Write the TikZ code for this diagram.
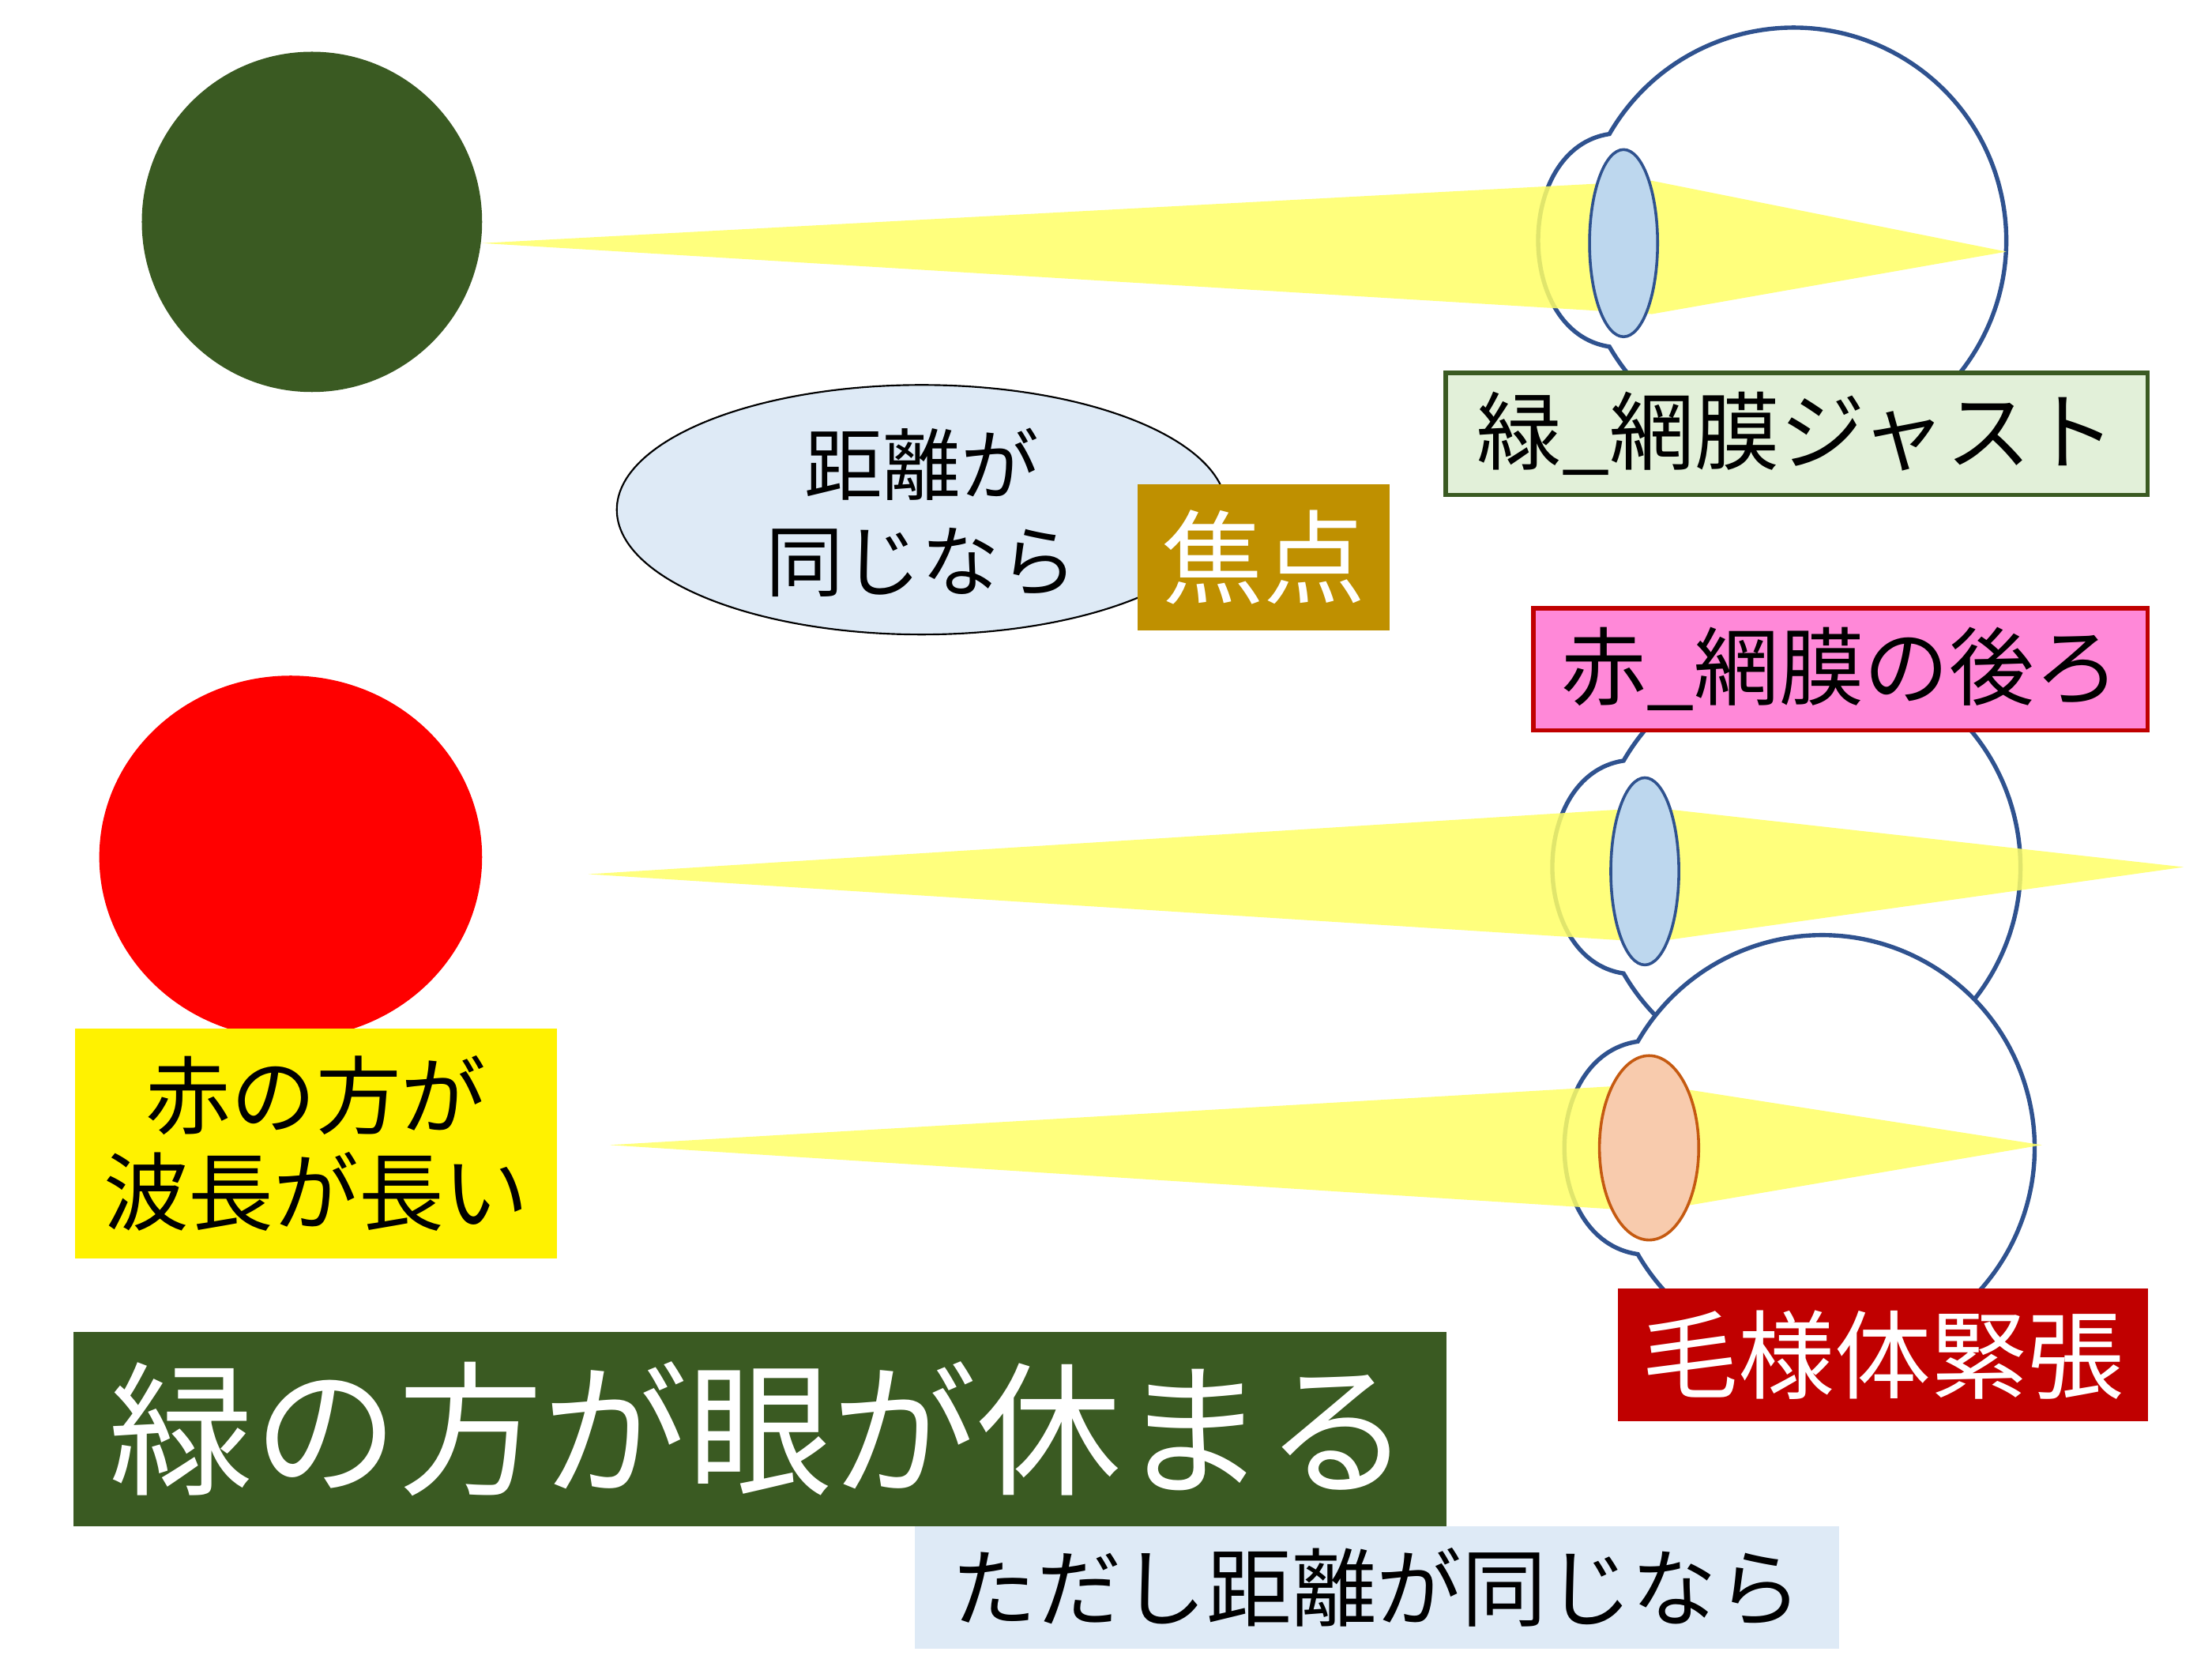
\documentclass[tikz,border=0pt]{standalone}
\usepackage{fontspec}
\usetikzlibrary{shapes.geometric}
\newfontfamily\cjk{Noto Sans CJK JP}
\definecolor{dgreen}{HTML}{3A5A22}
\definecolor{eyeblue}{HTML}{2F528F}
\definecolor{lensblue}{HTML}{BDD7EE}
\definecolor{lensor}{HTML}{F8CBAD}
\definecolor{lensorb}{HTML}{C55A11}
\definecolor{beam}{HTML}{FFFF66}
\definecolor{paleblue}{HTML}{DEEAF6}
\definecolor{gold}{HTML}{BF9000}
\definecolor{palegreen}{HTML}{E2F0D9}
\definecolor{pinkbox}{HTML}{FF88D8}
\definecolor{dred}{HTML}{C00000}
\tikzset{
  eyeline/.style={draw=eyeblue,line width=3pt,fill=white},
  beamfill/.style={fill=beam,fill opacity=0.85,draw=none},
  lbl/.style={font=\cjk,inner sep=0pt,align=center},
}
\begin{document}
\begin{tikzpicture}[x=1pt,y=1pt]
\useasboundingbox (0,0) rectangle (1560,1169.5);
% circles
\fill[dgreen] (220,1013) circle (120);
\fill[red] (205,565) ellipse (135 and 128);
% eye 1
\draw[eyeline] (1135,1075) arc[start angle=150,end angle=-150,radius=150]
  .. controls (1068,935) and (1068,1065) .. cycle;
\path[beamfill] (340,998) -- (1165,1042) -- (1415,992) -- (1165,948) -- cycle;
\draw[draw=eyeblue,line width=2pt,fill=lensblue] (1145,998) ellipse (24 and 66);
% eye 2
\draw[eyeline] (1145,633) arc[start angle=150,end angle=-150,radius=150]
  .. controls (1078,493) and (1078,623) .. cycle;
\path[beamfill] (415,553) -- (1165,600) -- (1540,558) -- (1165,505) -- cycle;
\draw[draw=eyeblue,line width=2pt,fill=lensblue] (1160,555) ellipse (24 and 66);
% eye 3
\draw[eyeline] (1155,435) arc[start angle=150,end angle=-150,radius=150]
  .. controls (1086,295) and (1086,425) .. cycle;
\path[beamfill] (430,362) -- (1165,405) -- (1440,362) -- (1165,315) -- cycle;
\draw[draw=lensorb,line width=2pt,fill=lensor] (1163,360) ellipse (35 and 65);
% ellipse
\node[lbl,draw=black,line width=1.2pt,fill=paleblue,ellipse,minimum width=430,minimum height=176] (q) at (650,810) {};
\node[lbl,font=\cjk\fontsize{55}{68}\selectfont] (qt) at (650,808) {距離が\\同じなら};
% labels
\node[lbl,fill=gold,text=white,minimum width=178,minimum height=103,font=\cjk\fontsize{72}{80}\selectfont] (f) at (891,776.5) {焦点};
\node[lbl,fill=palegreen,draw=dgreen,line width=3pt,minimum width=495,minimum height=86,font=\cjk\fontsize{60}{70}\selectfont] (g) at (1267,863.5) {緑\_網膜ジャスト};
\node[lbl,fill=pinkbox,draw=dred,line width=3pt,minimum width=433,minimum height=86,font=\cjk\fontsize{60}{70}\selectfont] (r) at (1298,697.5) {赤\_網膜の後ろ};
\node[lbl,fill=yellow,minimum width=340,minimum height=162,font=\cjk\fontsize{60}{68}\selectfont] (y) at (223,363) {赤の方が\\波長が長い};
\node[lbl,fill=dred,text=white,minimum width=374,minimum height=94,font=\cjk\fontsize{68}{76}\selectfont] (m) at (1328,214) {毛様体緊張};
\node[lbl,fill=dgreen,text=white,minimum width=968,minimum height=137,font=\cjk\fontsize{102}{110}\selectfont] (t) at (536,161.5) {緑の方が眼が休まる};
\node[lbl,fill=paleblue,minimum width=652,minimum height=86,font=\cjk\fontsize{60}{68}\selectfont] (s) at (971,50) {ただし距離が同じなら};
\end{tikzpicture}
\end{document}
